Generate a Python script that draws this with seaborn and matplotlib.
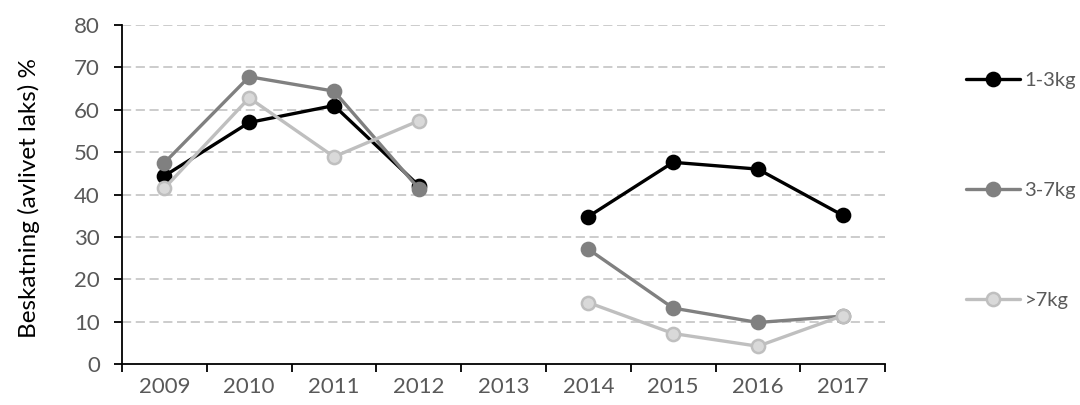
import numpy as np
import pandas as pd
import matplotlib
matplotlib.use("Agg")
import matplotlib.pyplot as plt
from matplotlib.lines import Line2D
import seaborn as sns

# values (2013 has no data)
years = ["2009", "2010", "2011", "2012", "2013", "2014", "2015", "2016", "2017"]
size_1_3 = [44.4, 57.0, 61.0, 42.1, np.nan, 34.8, 47.6, 46.0, 35.1]
size_3_7 = [47.5, 67.8, 64.4, 41.4, np.nan, 27.1, 13.2, 9.8, 11.3]
size_7_up = [41.5, 62.8, 48.9, 57.4, np.nan, 14.5, 7.2, 4.2, 11.4]
labels = ["1-3kg", "3-7kg", ">7kg"]

sns.set_style("white")
plt.rcParams["font.family"] = ["Lato", "DejaVu Sans"]

rows = []
for lab, vals in zip(labels, [size_1_3, size_3_7, size_7_up]):
    for i, v in enumerate(vals):
        # the missing year splits each series into two separate line pieces
        rows.append({"pos": i, "year": years[i], "value": v, "group": lab,
                     "piece": 0 if i < 4 else 1})
df = pd.DataFrame(rows).dropna()

styles = {
    "1-3kg": dict(color="#000000", markerfacecolor="#000000", markeredgecolor="#000000"),
    "3-7kg": dict(color="#808080", markerfacecolor="#808080", markeredgecolor="#808080"),
    ">7kg": dict(color="#BFBFBF", markerfacecolor="#D9D9D9", markeredgecolor="#BFBFBF"),
}

fig = plt.figure(figsize=(10.8, 4.05), dpi=100)
ax = fig.add_axes([0.113, 0.1012, 0.7065, 0.837])

for lab in labels:
    sub = df[df["group"] == lab]
    sns.lineplot(data=sub, x="pos", y="value", units="piece", estimator=None,
                 ax=ax, marker="o", markersize=9.5, markeredgewidth=1.8,
                 linewidth=2.4, legend=False, **styles[lab])

ax.set_ylim(0, 80)
ax.set_xlim(-0.5, len(years) - 0.5)
ax.set_yticks(np.arange(0, 81, 10))
ax.set_xticks(np.arange(-0.5, len(years), 1.0))
ax.set_xticklabels([])
ax.set_xticks(np.arange(len(years)), minor=True)
ax.set_xticklabels(years, minor=True)
ax.tick_params(axis="x", which="major", length=6, width=1.3, color="#000000", direction="out")
ax.tick_params(axis="x", which="minor", length=0, pad=9, labelsize=16, labelcolor="#595959")
ax.tick_params(axis="y", length=6, width=1.3, color="#000000", direction="out",
               pad=10, labelsize=16, labelcolor="#595959")
ax.tick_params(left=True, bottom=True)

for y in range(10, 81, 10):
    ax.axhline(y, color="#BFBFBF", linewidth=1.1, linestyle=(0, (6, 3)), zorder=0)

for side in ["top", "right"]:
    ax.spines[side].set_visible(False)
for side in ["left", "bottom"]:
    ax.spines[side].set_color("#000000")
    ax.spines[side].set_linewidth(1.3)

ax.set_xlabel("")
ax.set_ylabel("Beskatning (avlivet laks) %", fontsize=17.5, color="#000000")
ax.yaxis.set_label_coords(-0.108, 0.49)

handles = [Line2D([0], [0], marker="o", markersize=9.5, markeredgewidth=1.8,
                  linewidth=2.4, **styles[lab]) for lab in labels]
leg = fig.legend(handles, labels, loc="upper left", bbox_to_anchor=(966 / 1080, 0.822),
                 frameon=False, fontsize=14.5, labelspacing=4.6, handlelength=2.7,
                 handletextpad=0.2, borderpad=0, borderaxespad=0)
for t in leg.get_texts():
    t.set_color("#595959")

plt.savefig("out.png", dpi=100)
